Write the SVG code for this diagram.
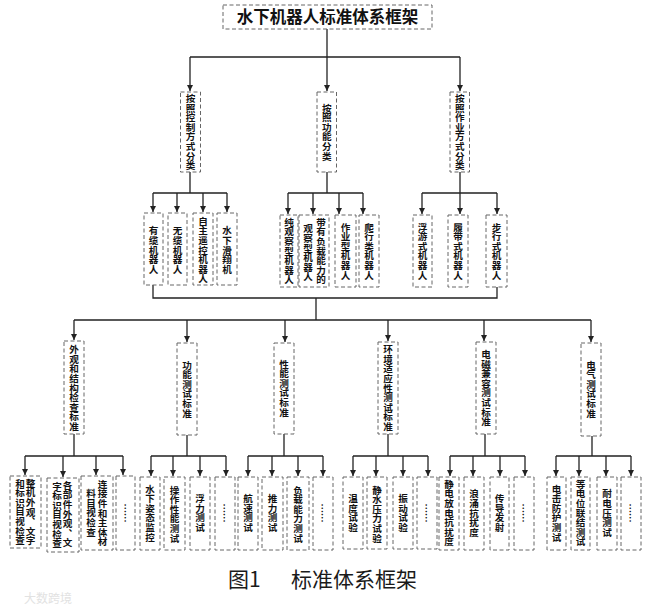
<svg xmlns="http://www.w3.org/2000/svg" width="671" height="608" viewBox="0 0 671 608">
<defs>
<marker id="arr" markerUnits="userSpaceOnUse" markerWidth="6" markerHeight="6" refX="6" refY="3" orient="auto">
<path d="M0,0 L6,3 L0,6 z" fill="#222"/>
</marker>
<style>
.box{fill:#fff;stroke:#666;stroke-width:1;stroke-dasharray:4 2.5}
.ln{fill:none;stroke:#222;stroke-width:1.3}
.ar{fill:none;stroke:#222;stroke-width:1.3;marker-end:url(#arr)}
.v{font-family:"Noto Sans CJK SC","Noto Sans",sans-serif;font-size:9.6px;font-weight:700;fill:#111;writing-mode:vertical-rl;text-anchor:middle}
.title{font-family:"Noto Sans CJK SC","Noto Sans",sans-serif;font-size:16.5px;font-weight:700;fill:#111;text-anchor:middle}
.cap{font-family:"Noto Sans CJK SC","Noto Sans",sans-serif;font-size:21px;font-weight:400;fill:#1a1a1a}
</style>
</defs>
<rect width="671" height="608" fill="#fff"/>

<g id="connectors">
<path class="ln" d="M327,29 V57 M190,57 H460"/>
<path class="ar" d="M190,57 V91"/><path class="ar" d="M327,57 V91"/><path class="ar" d="M460,57 V91"/>
<path class="ln" d="M190,172 V193 M327,172 V193 M460,172 V193 M153,193 H227 M288,193 H363 M422,193 H497"/>
<path class="ar" d="M153,193 V212"/><path class="ar" d="M177,193 V212"/><path class="ar" d="M203,193 V212"/><path class="ar" d="M227,193 V212"/>
<path class="ar" d="M288,193 V214"/><path class="ar" d="M313,193 V214"/><path class="ar" d="M339,193 V214"/><path class="ar" d="M363,193 V214"/>
<path class="ar" d="M422,193 V214"/><path class="ar" d="M460,193 V214"/><path class="ar" d="M497,193 V214"/>
<path class="ln" d="M153,285 V298 H497 V287 M316,298 V320 M74,320 H591"/>
<path class="ar" d="M74,320 V340"/><path class="ar" d="M187,320 V342"/><path class="ar" d="M285,320 V342"/><path class="ar" d="M388,320 V341"/><path class="ar" d="M484,320 V341"/><path class="ar" d="M591,320 V342"/>
<path class="ln" d="M74,434 V456 M187,435 V456 M284,434 V456 M388,434 V456 M485,434 V456 M592,436 V456 M25,456 H123 M151,456 H226 M248,456 H323 M353,456 H428 M450,456 H525 M556,456 H631"/>
<path class="ar" d="M25,456 V475"/><path class="ar" d="M63,456 V477"/><path class="ar" d="M96,456 V475"/><path class="ar" d="M123,456 V475"/>
<path class="ar" d="M151,456 V476"/><path class="ar" d="M173,456 V476"/><path class="ar" d="M200,456 V476"/><path class="ar" d="M226,456 V476"/>
<path class="ar" d="M248,456 V476"/><path class="ar" d="M272,456 V476"/><path class="ar" d="M298,456 V476"/><path class="ar" d="M323,456 V476"/>
<path class="ar" d="M353,456 V476"/><path class="ar" d="M376,456 V476"/><path class="ar" d="M403,456 V476"/><path class="ar" d="M428,456 V476"/>
<path class="ar" d="M450,456 V476"/><path class="ar" d="M473,456 V476"/><path class="ar" d="M500,456 V476"/><path class="ar" d="M525,456 V476"/>
<path class="ar" d="M556,456 V476"/><path class="ar" d="M579,456 V476"/><path class="ar" d="M606,456 V476"/><path class="ar" d="M631,456 V476"/>
</g>

<g id="root"><rect class="box" x="223" y="5" width="209" height="24"/><text class="title" x="327.5" y="23">水下机器人标准体系框架</text></g>

<g id="n-control"><rect class="box" x="180.5" y="92" width="20" height="80"/><text class="v" x="190.5" y="132">按照控制方式分类</text></g>
<g id="n-function"><rect class="box" x="317" y="92" width="19.5" height="80"/><text class="v" x="326.8" y="132">按照功能分类</text></g>
<g id="n-work"><rect class="box" x="450" y="92" width="19.5" height="80"/><text class="v" x="459.8" y="132">按照作业方式分类</text></g>

<g id="n-cable"><rect class="box" x="144" y="213" width="19" height="72"/><text class="v" x="153.5" y="250">有缆机器人</text></g>
<g id="n-nocable"><rect class="box" x="168" y="213" width="19" height="72"/><text class="v" x="177.5" y="250">无缆机器人</text></g>
<g id="n-auto"><rect class="box" x="193" y="213" width="20" height="72"/><text class="v" x="203" y="250">自主遥控机器人</text></g>
<g id="n-glider"><rect class="box" x="217" y="213" width="20" height="72"/><text class="v" x="227" y="250">水下滑翔机</text></g>

<g id="n-observe"><rect class="box" x="280" y="215" width="18" height="72"/><text class="v" x="289" y="251">纯观察型机器人</text></g>
<g id="n-payload"><rect class="box" x="299" y="215" width="30" height="72"/><text class="v"><tspan x="321" y="251">带有负载能力的</tspan><tspan x="308" y="253">观察型机器人</tspan></text></g>
<g id="n-workclass"><rect class="box" x="335" y="215" width="21" height="72"/><text class="v" x="345.5" y="251">作业型机器人</text></g>
<g id="n-crawl"><rect class="box" x="359" y="215" width="20" height="72"/><text class="v" x="369" y="251">爬行类机器人</text></g>

<g id="n-float"><rect class="box" x="413" y="215" width="19" height="72"/><text class="v" x="422.5" y="251">浮游式机器人</text></g>
<g id="n-track"><rect class="box" x="448" y="215" width="20" height="72"/><text class="v" x="458" y="251">履带式机器人</text></g>
<g id="n-walk"><rect class="box" x="486" y="215" width="21" height="72"/><text class="v" x="496.5" y="251">步行式机器人</text></g>

<g id="s-appearance"><rect class="box" x="64" y="341" width="20" height="93"/><text class="v" x="74" y="388">外观和结构检查标准</text></g>
<g id="s-function"><rect class="box" x="177" y="343" width="20" height="92"/><text class="v" x="187" y="389">功能测试标准</text></g>
<g id="s-performance"><rect class="box" x="274" y="343" width="20" height="91"/><text class="v" x="284" y="388">性能测试标准</text></g>
<g id="s-environment"><rect class="box" x="378" y="342" width="20" height="92"/><text class="v" x="388" y="388">环境适应性测试标准</text></g>
<g id="s-emc"><rect class="box" x="476" y="342" width="20" height="92"/><text class="v" x="486" y="388">电磁兼容测试标准</text></g>
<g id="s-electric"><rect class="box" x="581" y="343" width="20" height="93"/><text class="v" x="591" y="389">电气测试标准</text></g>

<g id="a1"><rect class="box" x="10" y="476" width="31" height="72"/><text class="v"><tspan x="30.5" y="512">整机外观、文字</tspan><tspan x="20" y="512">和标识目视检查</tspan></text></g>
<g id="a2"><rect class="box" x="47" y="478" width="32" height="74"/><text class="v"><tspan x="67.5" y="514">各部件外观、文</tspan><tspan x="57" y="515">字标识目视检查</tspan></text></g>
<g id="a3"><rect class="box" x="81" y="476" width="32" height="74"/><text class="v"><tspan x="102.5" y="513">连接件和主体材</tspan><tspan x="91" y="513">料目视检查</tspan></text></g>
<g id="a4"><rect class="box" x="116" y="476" width="19" height="74"/><text class="v" x="125.5" y="513">……</text></g>

<g id="b1"><rect class="box" x="140" y="477" width="20" height="73"/><text class="v" x="150" y="513">水下姿态监控</text></g>
<g id="b2"><rect class="box" x="164" y="477" width="21" height="73"/><text class="v" x="174.5" y="514">操作性能测试</text></g>
<g id="b3"><rect class="box" x="190" y="477" width="20" height="73"/><text class="v" x="200" y="513">浮力测试</text></g>
<g id="b4"><rect class="box" x="215" y="477" width="20" height="73"/><text class="v" x="225" y="513">……</text></g>

<g id="c1"><rect class="box" x="238" y="477" width="20" height="73"/><text class="v" x="248" y="513">航速测试</text></g>
<g id="c2"><rect class="box" x="262" y="477" width="21" height="73"/><text class="v" x="272.5" y="513">推力测试</text></g>
<g id="c3"><rect class="box" x="287" y="477" width="22" height="73"/><text class="v" x="298" y="514">负载能力测试</text></g>
<g id="c4"><rect class="box" x="313" y="477" width="20" height="73"/><text class="v" x="323" y="513">……</text></g>

<g id="d1"><rect class="box" x="343" y="477" width="20" height="72"/><text class="v" x="353" y="513">温度试验</text></g>
<g id="d2"><rect class="box" x="367" y="477" width="20" height="72"/><text class="v" x="377" y="514">静水压力试验</text></g>
<g id="d3"><rect class="box" x="393" y="477" width="20" height="72"/><text class="v" x="403" y="513">振动试验</text></g>
<g id="d4"><rect class="box" x="417" y="477" width="20" height="72"/><text class="v" x="427" y="513">……</text></g>

<g id="e1"><rect class="box" x="439" y="477" width="20" height="73"/><text class="v" x="449" y="513">静电放电抗扰度</text></g>
<g id="e2"><rect class="box" x="464" y="477" width="20" height="73"/><text class="v" x="474" y="513">浪涌抗扰度</text></g>
<g id="e3"><rect class="box" x="490" y="477" width="19" height="73"/><text class="v" x="499.5" y="513">传导发射</text></g>
<g id="e4"><rect class="box" x="514" y="477" width="20" height="73"/><text class="v" x="524" y="513">……</text></g>

<g id="f1"><rect class="box" x="547" y="477" width="19" height="73"/><text class="v" x="556.5" y="513">电击防护测试</text></g>
<g id="f2"><rect class="box" x="571" y="477" width="19" height="73"/><text class="v" x="580.5" y="513">等电位联结测试</text></g>
<g id="f3"><rect class="box" x="597" y="477" width="20" height="73"/><text class="v" x="607" y="513">耐电压测试</text></g>
<g id="f4"><rect class="box" x="621" y="477" width="20" height="73"/><text class="v" x="631" y="513">……</text></g>

<g id="caption"><text class="cap" x="228" y="587">图1<tspan x="291">标准体系框架</tspan></text></g>
<text x="24" y="603" font-family="'Noto Sans CJK SC',sans-serif" font-size="12" fill="#e2e2e2">大数跨境</text>
</svg>
